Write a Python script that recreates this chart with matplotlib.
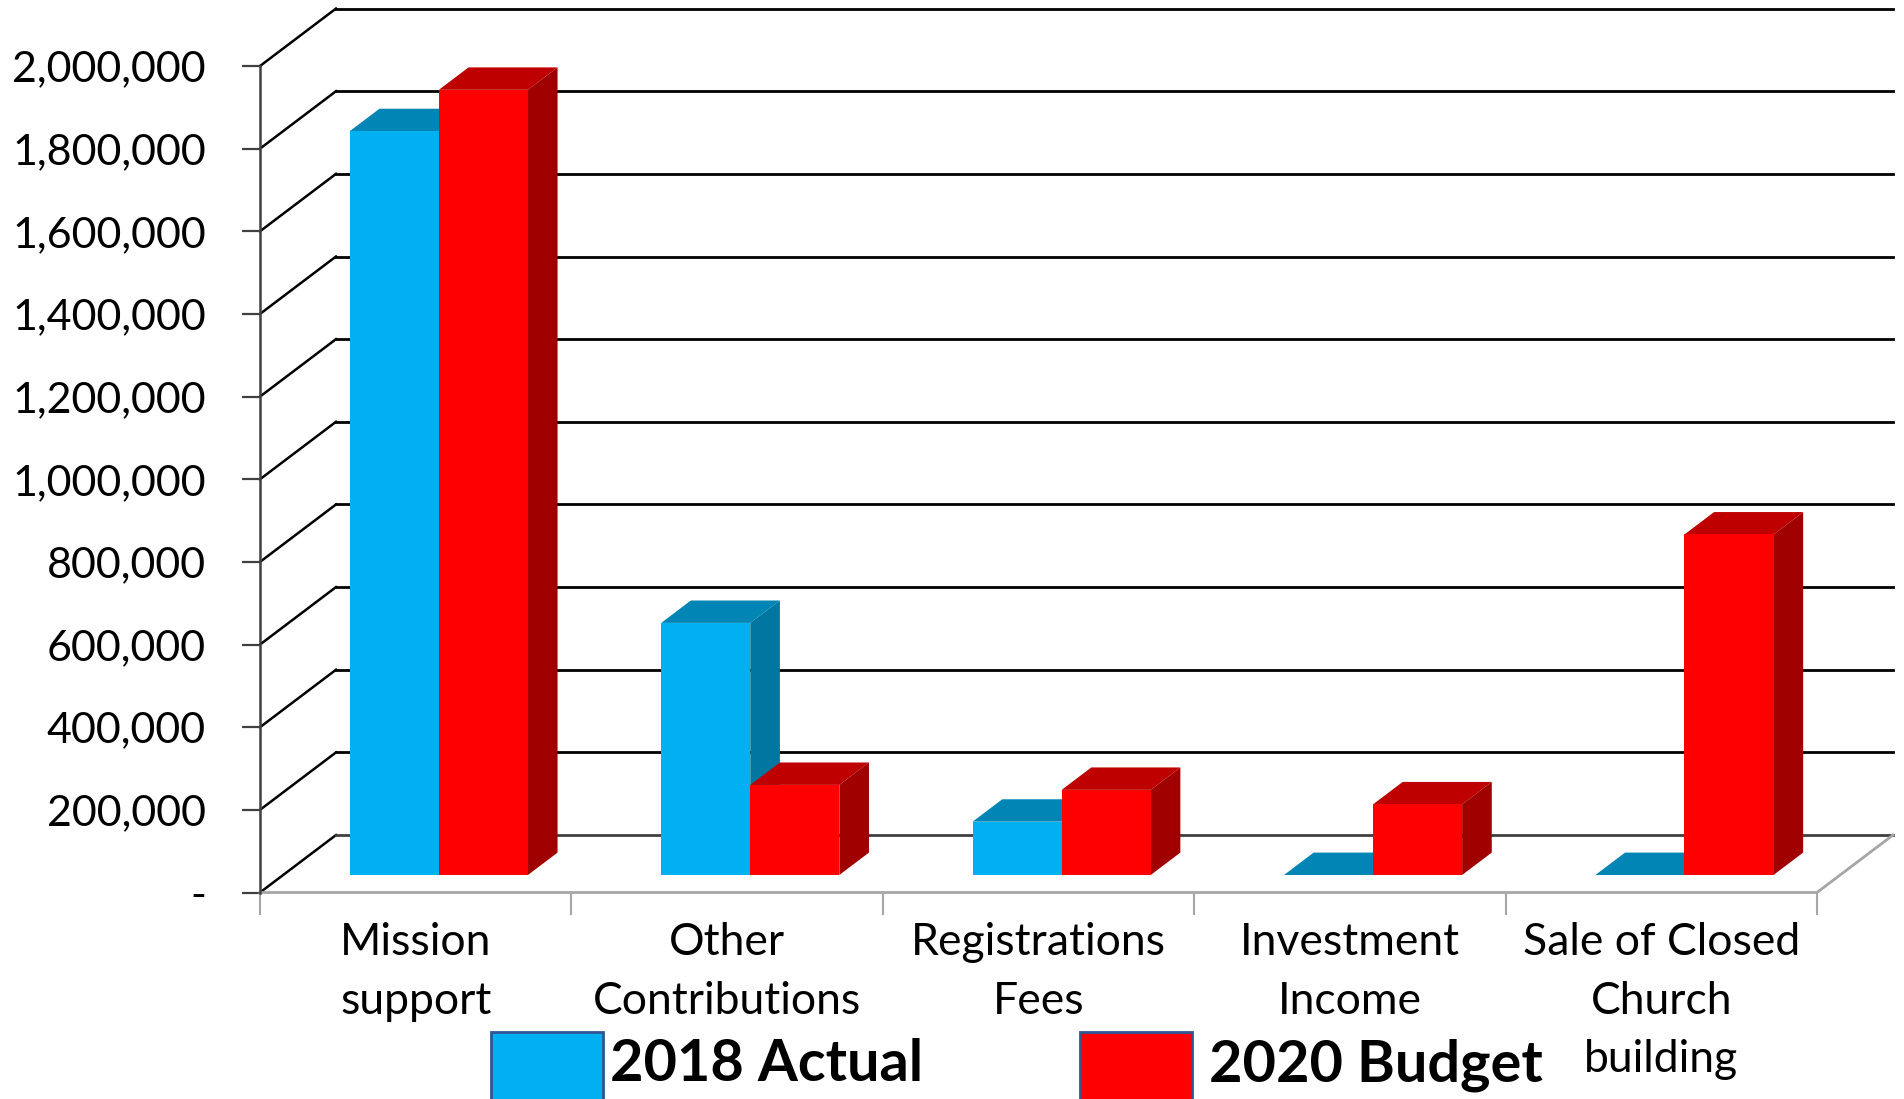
import matplotlib
matplotlib.use('Agg')
import matplotlib.pyplot as plt
from matplotlib.legend_handler import HandlerPatch

categories = ['Mission\nsupport', 'Other\nContributions', 'Registrations\nFees',
              'Investment\nIncome', 'Sale of Closed\nChurch\nbuilding']
actual_2018 = [1800000, 610000, 129000, 0, 0]
budget_2020 = [1900000, 218000, 206000, 171000, 824000]
y_ticks = [0, 200000, 400000, 600000, 800000, 1000000, 1200000, 1400000,
           1600000, 1800000, 2000000]
y_labels = ['-', '200,000', '400,000', '600,000', '800,000', '1,000,000', '1,200,000',
            '1,400,000', '1,600,000', '1,800,000', '2,000,000']

W, H = 1904, 1099
# oblique depth of the chart box, in data units
DEPTH_X = 0.244
DEPTH_Y = 139000
BAR_W = 0.286
BAR_FRONT = 0.305
BAR_BACK = 0.695

plt.rcParams['font.family'] = ['Lato', 'DejaVu Sans']

fig = plt.figure(figsize=(W / 100, H / 100), dpi=100)
ax = fig.add_axes([260 / W, 1 - 892.5 / H, (1817 - 260) / W, (892.5 - 66) / H])
ax.set_xlim(0, 5)
ax.set_ylim(0, 2000000)
for s in ax.spines.values():
    s.set_visible(False)


def shift(x, y, d):
    return x + d * DEPTH_X, y + d * DEPTH_Y


def draw_bar(x, value, front, top, side):
    x0, y0 = shift(x, 0, BAR_FRONT)
    ax.bar(x0, value, BAR_W, bottom=y0, align='edge', color=front, zorder=5, clip_on=False)
    a = shift(x, value, BAR_FRONT)
    b = shift(x + BAR_W, value, BAR_FRONT)
    c = shift(x + BAR_W, value, BAR_BACK)
    d = shift(x, value, BAR_BACK)
    ax.fill([a[0], b[0], c[0], d[0]], [a[1], b[1], c[1], d[1]], color=top, lw=0, zorder=4, clip_on=False)
    e = shift(x + BAR_W, 0, BAR_FRONT)
    f = shift(x + BAR_W, 0, BAR_BACK)
    ax.fill([b[0], c[0], f[0], e[0]], [b[1], c[1], f[1], e[1]], color=side, lw=0, zorder=4, clip_on=False)


def tall_key(legend, orig_handle, xdescent, ydescent, width, height, fontsize):
    # key runs on below the text, off the bottom edge of the figure
    extra = fontsize
    return plt.Rectangle((-xdescent, -ydescent - extra), width, height + extra)


# back wall gridlines and their diagonals on the side wall
for v in y_ticks:
    bx, by = shift(0, v, 1)
    ex, ey = shift(5, v, 1)
    col = '#404040' if v == 0 else 'black'
    ax.plot([0, bx], [v, by], color='black', lw=1.8, zorder=1, clip_on=False)
    ax.plot([bx, ex], [by, ey], color=col, lw=2, zorder=1, clip_on=False)

# floor edges
ex, ey = shift(5, 0, 1)
ax.plot([0, 5, ex], [0, 0, ey], color='#a6a6a6', lw=2, zorder=2, clip_on=False)
ax.plot([0, 0], [0, 2000000], color='#404040', lw=1.8, zorder=2, clip_on=False)

for i in range(len(categories)):
    left = i + 0.5 - BAR_W
    draw_bar(left, actual_2018[i], '#00B0F0', '#0085B5', '#0076A0')
    draw_bar(left + BAR_W, budget_2020[i], '#FF0000', '#BF0000', '#A00000')

ax.set_yticks(y_ticks)
ax.set_yticklabels(y_labels, fontsize=31)
ax.tick_params(axis='y', length=13, width=1.6, color='#404040', pad=26)
ax.set_xticks(range(6))
ax.set_xticklabels([])
ax.tick_params(axis='x', which='major', length=16, width=1.5, color='#a6a6a6')
ax.set_xticks([i + 0.5 for i in range(5)], minor=True)
ax.set_xticklabels(categories, minor=True, fontsize=32, linespacing=1.53)
ax.tick_params(axis='x', which='minor', length=0, pad=21.5)

# the two legend entries sit at their own positions along the bottom edge
legend_font = {'family': 'Lato', 'weight': 'bold', 'size': 41.5}
blue_key = plt.Rectangle((0, 0), 1, 1, fc='#00B0F0', ec='#2F5597', lw=2)
red_key = plt.Rectangle((0, 0), 1, 1, fc='#FF0000', ec='#2F5597', lw=2)
key_handler = HandlerPatch(patch_func=tall_key)
fig.legend([blue_key], ['2018 Actual'], frameon=False, loc='center left',
           bbox_to_anchor=(491 / W, 1 - 1062 / H), prop=legend_font,
           handlelength=1.94, handleheight=1.2, handletextpad=0.12,
           borderpad=0, borderaxespad=0, handler_map={blue_key: key_handler})
fig.legend([red_key], ['2020 Budget'], frameon=False, loc='center left',
           bbox_to_anchor=(1080 / W, 1 - 1062 / H), prop=legend_font,
           handlelength=1.94, handleheight=1.2, handletextpad=0.29,
           borderpad=0, borderaxespad=0, handler_map={red_key: key_handler})

fig.savefig('out.png', dpi=100)
